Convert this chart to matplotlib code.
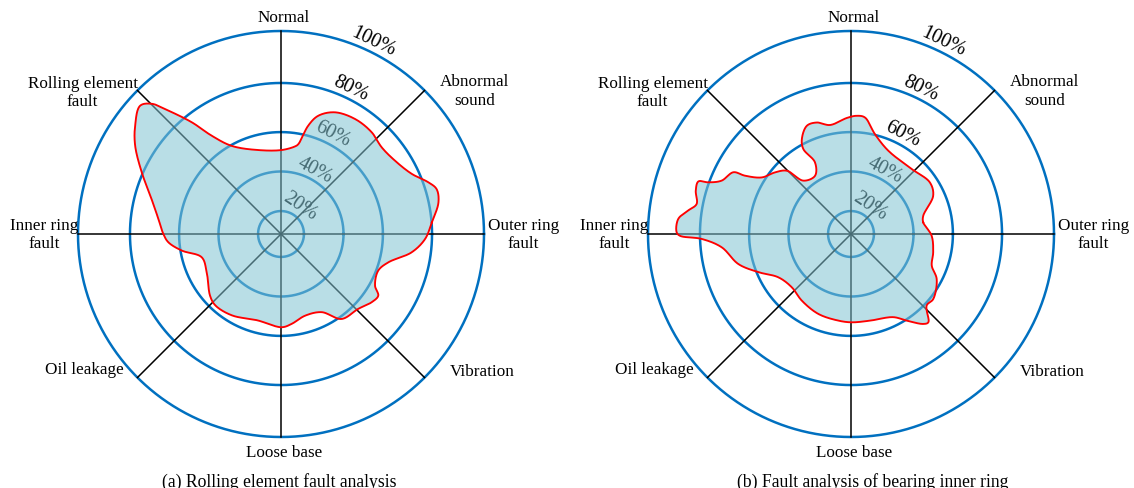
"""
Radar-style fault analysis charts: (a) rolling element fault, (b) bearing inner ring.
The radial scale is not linear, so a FuncScale maps percent -> ring radius.
"""
import numpy as np
import matplotlib
matplotlib.use("Agg")
import matplotlib.pyplot as plt

plt.rcParams["font.family"] = ["Liberation Serif", "DejaVu Serif"]

CATEGORIES = ["Normal", "Abnormal\nsound", "Outer ring\nfault", "Vibration",
              "Loose base", "Oil leakage", "Inner ring\nfault", "Rolling element\nfault"]
SPOKE_ANGLES = [90, 45, 0, 315, 270, 225, 180, 135]
RING_VALUES = [20, 40, 60, 80, 100]
RING_LABELS = ["20%", "40%", "60%", "80%", "100%"]
RING_LABEL_ANGLES = [56, 62, 63, 64.5, 64.5]

# percent -> fraction of outer ring radius (rings are unevenly spaced in the original)
SCALE_PCT = [0, 20, 40, 60, 80, 100, 200]
SCALE_RAD = [0, 0.113, 0.308, 0.502, 0.744, 1.0, 2.28]

# (a) rolling element fault: outline read around the chart (deg, %)
A_ANGLES = [4.4, 11.4, 16.1, 19.3, 24.7, 32.7, 40.7, 48.3, 57.2, 66.1, 72.5, 75.9,
            79.1, 80.9, 89.5, 105.1, 119.2, 125.2, 128.6, 132.4, 134.8, 137.7,
            143.4, 148.8, 156.1, 164.9, 173.0, 180.0, 184.2, 189.5, 196.4, 207.3,
            221.0, 227.4, 238.9, 254.7, 270.4, 276.8, 286.4, 297.5, 305.5, 315.9,
            323.0, 327.6, 331.2, 339.3, 345.2, 352.0, 358.0]
A_VALUES = [80.1, 83.7, 84.2, 82.0, 77.1, 73.7, 72.6, 74.0, 74.2, 72.7, 69.0, 64.0,
            54.7, 53.3, 50.9, 52.4, 59.5, 67.5, 76.7, 86.2, 92.5, 95.2,
            91.8, 87.5, 80.5, 73.1, 68.8, 66.4, 64.5, 59.3, 50.2, 50.7,
            56.0, 57.5, 56.5, 53.7, 55.6, 54.2, 51.5, 53.0, 61.0, 62.3,
            64.7, 65.4, 62.2, 60.8, 63.7, 72.2, 77.2]

# (b) bearing inner ring fault
B_ANGLES = [9.2, 14.2, 25.0, 33.2, 47.0, 65.9, 76.5, 83.2, 87.2, 92.0, 100.9, 107.1,
            112.2, 117.4, 119.3, 116.7, 121.7, 131.8, 135.4, 140.9, 147.6, 151.2,
            152.3, 157.6, 160.1, 161.0, 164.4, 169.0, 171.8, 175.0, 179.4, 180.6,
            181.9, 185.9, 194.9, 202.4, 210.8, 222.0, 233.5, 247.8, 261.7, 270.5,
            282.4, 296.9, 302.7, 308.8, 311.2, 316.6, 321.7, 332.3, 338.6, 347.5, 358.8]
B_VALUES = [45.4, 46.1, 54.3, 56.1, 53.4, 54.6, 60.3, 66.3, 66.7, 65.8, 63.7, 66.0,
            66.1, 62.0, 57.7, 49.0, 43.0, 44.6, 54.0, 57.9, 61.5, 67.8,
            72.6, 75.5, 80.3, 84.0, 83.9, 82.4, 85.2, 88.6, 89.0, 87.7,
            79.3, 71.4, 66.0, 59.1, 51.2, 48.7, 50.3, 52.1, 52.7, 53.1,
            53.3, 55.6, 60.4, 65.5, 66.3, 60.9, 61.2, 57.4, 52.3, 51.0, 49.2]

RING_COLOR = "#0070c0"
FILL_COLOR = "#80c3d2"
LINE_COLOR = "#ff0000"

# label anchor offsets from the centre, in pixels (outer ring radius = 203 px)
LABEL_POS = {
    "Normal": (3, 217, "center"),
    "Abnormal\nsound": (194, 143.5, "center"),
    "Outer ring\nfault": (207, 0, "left"),
    "Vibration": (169, -136.5, "left"),
    "Loose base": (3, -218, "center"),
    "Oil leakage": (-197, -135, "center"),
    "Inner ring\nfault": (-203, 0, "right"),
    "Rolling element\nfault": (-198.5, 142, "center"),
}


def fwd(v):
    return np.interp(v, SCALE_PCT, SCALE_RAD)


def inv(r):
    return np.interp(r, SCALE_RAD, SCALE_PCT)


def closed_spline(theta_deg, values, steps=24):
    # centripetal Catmull-Rom through the read points, done in display radius
    t = np.deg2rad(theta_deg)
    r = fwd(np.asarray(values, float))
    pts = np.column_stack([r * np.cos(t), r * np.sin(t)])
    n = len(pts)
    seg = []
    for i in range(n):
        p0, p1, p2, p3 = pts[(i - 1) % n], pts[i], pts[(i + 1) % n], pts[(i + 2) % n]
        t0 = 0.0
        t1 = t0 + np.linalg.norm(p1 - p0) ** 0.5
        t2 = t1 + np.linalg.norm(p2 - p1) ** 0.5
        t3 = t2 + np.linalg.norm(p3 - p2) ** 0.5
        u = np.linspace(t1, t2, steps, endpoint=False)[:, None]
        a1 = (t1 - u) / (t1 - t0) * p0 + (u - t0) / (t1 - t0) * p1
        a2 = (t2 - u) / (t2 - t1) * p1 + (u - t1) / (t2 - t1) * p2
        a3 = (t3 - u) / (t3 - t2) * p2 + (u - t2) / (t3 - t2) * p3
        b1 = (t2 - u) / (t2 - t0) * a1 + (u - t0) / (t2 - t0) * a2
        b2 = (t3 - u) / (t3 - t1) * a2 + (u - t1) / (t3 - t1) * a3
        seg.append((t2 - u) / (t2 - t1) * b1 + (u - t1) / (t2 - t1) * b2)
    xy = np.vstack(seg + [seg[0][:1]])
    ang = np.unwrap(np.arctan2(xy[:, 1], xy[:, 0]))
    return ang, inv(np.hypot(xy[:, 0], xy[:, 1]))


def draw_radar(ax, angles, values):
    ax.set_rscale("function", functions=(fwd, inv))
    ax.set_ylim(0, 100)
    ax.set_xticks([])
    ax.set_yticks([])
    ax.grid(False)
    ax.spines["polar"].set_visible(False)

    th = np.linspace(0, 2 * np.pi, 721)
    for v in RING_VALUES:
        ax.plot(th, np.full_like(th, v), color=RING_COLOR, lw=1.8, zorder=1, clip_on=False)
    for a in SPOKE_ANGLES:
        ax.plot([np.deg2rad(a)] * 2, [0, 100], color="black", lw=1.1, zorder=1.5, clip_on=False)

    for v, lbl, a in zip(RING_VALUES, RING_LABELS, RING_LABEL_ANGLES):
        off = 7.8
        ax.annotate(lbl, xy=(np.deg2rad(a), v),
                    xytext=(off * np.cos(np.deg2rad(a)), off * np.sin(np.deg2rad(a))),
                    textcoords="offset points", ha="center", va="center",
                    rotation=a - 90, rotation_mode="anchor", fontsize=14.5,
                    annotation_clip=False, zorder=3)

    ang, vals = closed_spline(angles, values)
    ax.fill(ang, vals, facecolor=FILL_COLOR, alpha=0.55, edgecolor="none", zorder=3.5)
    ax.plot(ang, vals, color=LINE_COLOR, lw=1.35, zorder=4)

    for lbl in CATEGORIES:
        dx, dy, ha = LABEL_POS[lbl]
        ax.text(0.5 + dx / 406, 0.5 + dy / 406, lbl, transform=ax.transAxes,
                ha=ha, va="center", multialignment="center", fontsize=12.3)


fig = plt.figure(figsize=(11.34, 4.89), dpi=100)
ax_a = fig.add_axes([78 / 1134, 51 / 489, 406 / 1134, 406 / 489], projection="polar")
ax_b = fig.add_axes([648 / 1134, 51 / 489, 406 / 1134, 406 / 489], projection="polar")
draw_radar(ax_a, A_ANGLES, A_VALUES)
draw_radar(ax_b, B_ANGLES, B_VALUES)

fig.text(279 / 1134, 2.5 / 489, "(a) Rolling element fault analysis",
         ha="center", va="baseline", fontsize=12.7)
fig.text(873 / 1134, 2.5 / 489, "(b) Fault analysis of bearing inner ring",
         ha="center", va="baseline", fontsize=12.7)

fig.savefig("out.png", dpi=100)
